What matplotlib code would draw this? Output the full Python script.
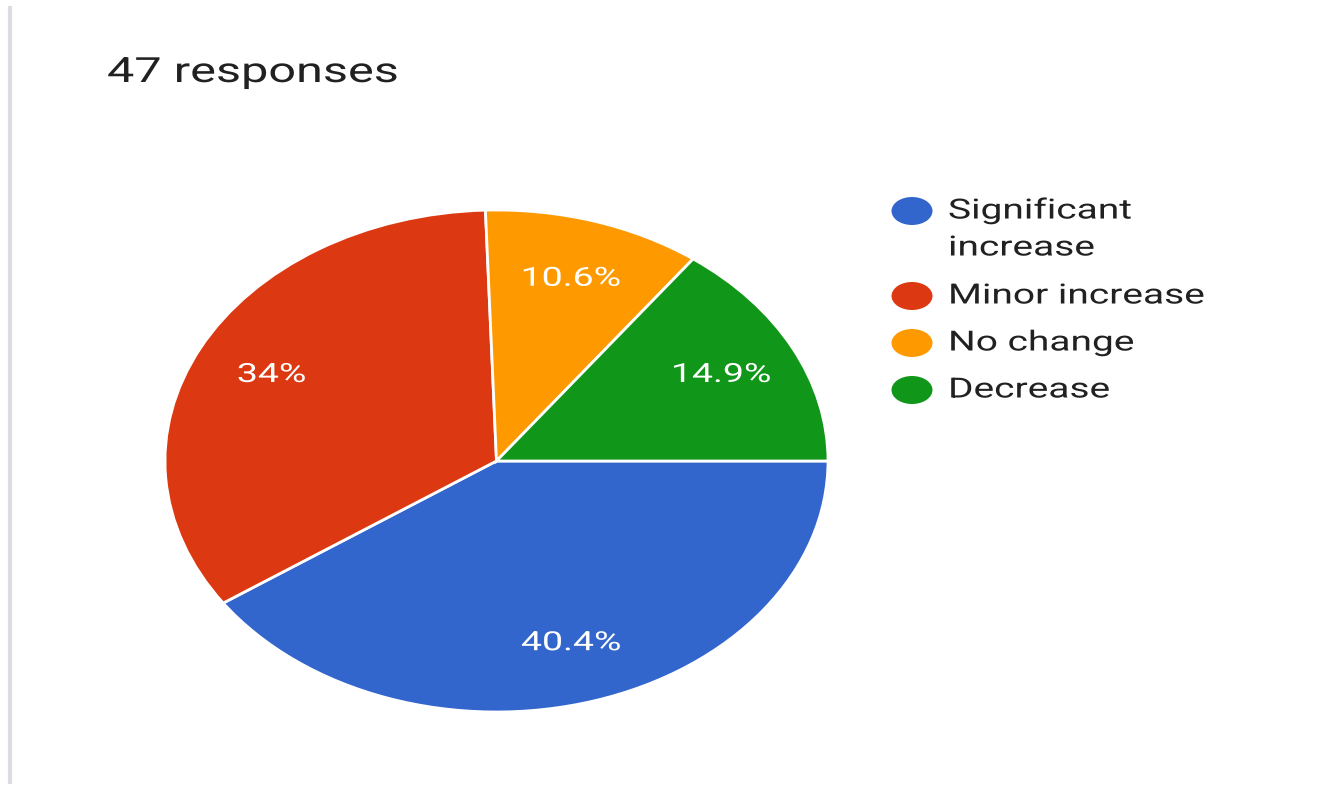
import matplotlib
matplotlib.use("Agg")
import matplotlib.pyplot as plt
from matplotlib.patches import Ellipse
from matplotlib.lines import Line2D
from matplotlib.patheffects import AbstractPathEffect
from matplotlib.transforms import Affine2D
import numpy as np

categories = ["Significant\nincrease", "Minor increase", "No change", "Decrease"]
counts = [19, 16, 5, 7]
pct_labels = ["40.4%", "34%", "10.6%", "14.9%"]
colors = ["#3366CC", "#DC3912", "#FF9900", "#109618"]
title = "47 responses"

W, H = 1338, 787
fig = plt.figure(figsize=(W / 100, H / 100), dpi=100)
fig.patch.set_facecolor("white")
FONT = ["Roboto", "DejaVu Sans"]


class Stretch(AbstractPathEffect):
    """Widen rendered text horizontally (the reference image is stretched)."""

    def __init__(self, sx, center=False):
        super().__init__()
        self.sx = sx
        self.center = center

    def draw_path(self, renderer, gc, tpath, affine, rgbFace=None):
        cx = 0.0
        if self.center and len(tpath.vertices):
            ext = tpath.get_extents()
            cx = 0.5 * (ext.x0 + ext.x1)
        st = Affine2D().translate(-cx, 0).scale(self.sx, 1).translate(cx, 0)
        renderer.draw_path(gc, tpath, st + affine, rgbFace)


# pie axes (elliptical, stretched like the reference)
ax = fig.add_axes([165 / W, (H - 712) / H, 663 / W, 502 / H])
wedges, _ = ax.pie(counts, colors=colors, startangle=0, counterclock=False,
                   wedgeprops=dict(edgecolor="white", linewidth=2))
ax.set_aspect("auto")
ax.set_xlim(-1, 1)
ax.set_ylim(-1, 1)
ax.axis("off")

total = sum(counts)
ang = 0.0
for c, lab in zip(counts, pct_labels):
    span = 360.0 * c / total
    mid = np.deg2rad(ang - span / 2)
    ang -= span
    r = 0.76
    ax.text(r * np.cos(mid), r * np.sin(mid), lab, color="white",
            fontsize=19, ha="center", va="center", family=FONT,
            path_effects=[Stretch(1.42, center=True)])

# title
fig.text(107 / W, (H - 82) / H, title, fontsize=25, color="#212121",
         ha="left", va="baseline", family=FONT,
         path_effects=[Stretch(1.40)])

# legend
ys = [211, 296, 343, 390]
for y, lab, col in zip(ys, categories, colors):
    fig.add_artist(Ellipse((912 / W, (H - y) / H), 41 / W, 28 / H,
                           transform=fig.transFigure, facecolor=col,
                           edgecolor="none"))
    for i, ln in enumerate(lab.split("\n")):
        fig.text(948 / W, (H - (y + 37 * i)) / H, ln, fontsize=20,
                 color="#212121", ha="left", va="center", family=FONT,
                 path_effects=[Stretch(1.40)])

# left gray bar
fig.add_artist(Line2D([10 / W, 10 / W], [(H - 782) / H, (H - 8) / H],
                      transform=fig.transFigure, color="#dcdce2", linewidth=3))

fig.savefig("out.png", dpi=100, facecolor="white")
